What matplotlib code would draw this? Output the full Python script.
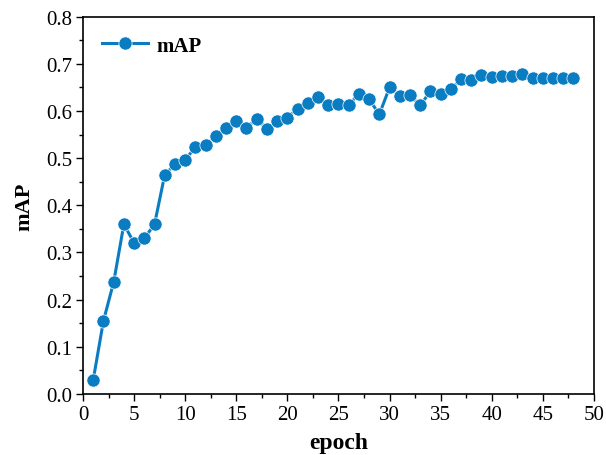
import numpy as np
import matplotlib
matplotlib.use('Agg')
import matplotlib.pyplot as plt
from matplotlib.ticker import MultipleLocator

plt.rcParams['font.family'] = ['Liberation Serif', 'DejaVu Serif']

epochs = list(range(1, 49))
map_values = [0.030, 0.155, 0.237, 0.360, 0.320, 0.330, 0.360, 0.465, 0.487, 0.497,
              0.523, 0.527, 0.548, 0.565, 0.578, 0.565, 0.583, 0.563, 0.578, 0.586,
              0.605, 0.617, 0.630, 0.613, 0.615, 0.612, 0.637, 0.625, 0.593, 0.650,
              0.632, 0.634, 0.612, 0.642, 0.637, 0.646, 0.667, 0.665, 0.677, 0.672,
              0.675, 0.675, 0.678, 0.671, 0.670, 0.671, 0.671, 0.671]

fig = plt.figure(figsize=(6.06, 4.56), dpi=100)
ax = fig.add_axes([0.137, 0.134, 0.843, 0.827])

ax.plot(epochs, map_values, color='#0a7cc1', linewidth=2.2, marker='o',
        markersize=9.5, markeredgecolor='white', markeredgewidth=0.5, label='mAP')

ax.set_xlim(0, 50)
ax.set_ylim(0, 0.8)
ax.xaxis.set_major_locator(MultipleLocator(5))
ax.xaxis.set_minor_locator(MultipleLocator(2.5))
ax.yaxis.set_major_locator(MultipleLocator(0.1))
ax.yaxis.set_minor_locator(MultipleLocator(0.05))
ax.tick_params(which='major', direction='out', length=5, width=1, labelsize=15, pad=3)
ax.tick_params(which='minor', direction='out', length=3, width=1)
ax.tick_params(top=False, right=False)
for spine in ax.spines.values():
    spine.set_linewidth(1.2)

ax.set_xlabel('epoch', fontsize=17, fontweight='bold', labelpad=6)
ax.set_ylabel('mAP', fontsize=16, fontweight='bold', labelpad=8)

ax.legend(loc='upper left', frameon=False, prop={'size': 15, 'weight': 'bold'},
          handlelength=2.2, handletextpad=0.4, borderaxespad=0.5)

fig.savefig('out.png', dpi=100)
